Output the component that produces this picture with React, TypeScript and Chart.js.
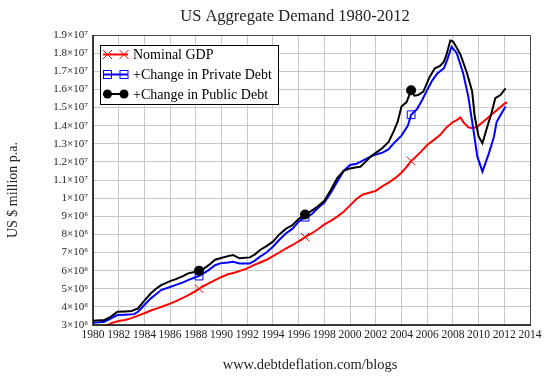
import React, { useEffect, useRef } from "react";
import { Chart, registerables } from "chart.js";

Chart.register(...registerables);

const gdpYears = [1980, 1980.5, 1981, 1981.2, 1981.5, 1982, 1982.5, 1983, 1983.5, 1984, 1984.5, 1985, 1985.5, 1986, 1986.5, 1987, 1987.5, 1988, 1988.25, 1988.5, 1989, 1989.5, 1990, 1990.5, 1991, 1991.5, 1992, 1992.5, 1993, 1993.5, 1994, 1994.5, 1995, 1995.5, 1996, 1996.5, 1997, 1997.5, 1998, 1998.5, 1999, 1999.5, 2000, 2000.5, 2001, 2001.5, 2002, 2002.5, 2003, 2003.5, 2004, 2004.5, 2004.75, 2005, 2005.5, 2006, 2006.5, 2007, 2007.5, 2008, 2008.3, 2008.6, 2008.8, 2009.2, 2009.6, 2010, 2010.5, 2011, 2011.5, 2012, 2012.2];
const gdpValues = [2.78e6, 2.86e6, 2.98e6, 3.02e6, 3.12e6, 3.22e6, 3.28e6, 3.38e6, 3.52e6, 3.65e6, 3.8e6, 3.92e6, 4.05e6, 4.18e6, 4.33e6, 4.5e6, 4.68e6, 4.88e6, 5.0e6, 5.1e6, 5.3e6, 5.48e6, 5.65e6, 5.8e6, 5.88e6, 6.0e6, 6.12e6, 6.3e6, 6.45e6, 6.6e6, 6.8e6, 7.0e6, 7.22e6, 7.4e6, 7.62e6, 7.85e6, 8.05e6, 8.28e6, 8.55e6, 8.75e6, 8.98e6, 9.25e6, 9.6e6, 9.95e6, 1.02e7, 1.03e7, 1.04e7, 1.065e7, 1.085e7, 1.11e7, 1.14e7, 1.18e7, 1.205e7, 1.22e7, 1.255e7, 1.293e7, 1.32e7, 1.348e7, 1.39e7, 1.42e7, 1.43e7, 1.445e7, 1.42e7, 1.39e7, 1.385e7, 1.4e7, 1.43e7, 1.46e7, 1.49e7, 1.52e7, 1.53e7];

const privateYears = [1980, 1980.5, 1980.9, 1981.4, 1981.9, 1982.5, 1983.2, 1983.5, 1984, 1984.5, 1985, 1985.3, 1986, 1986.4, 1987, 1987.4, 1987.9, 1988.25, 1988.5, 1989, 1989.5, 1989.9, 1990.5, 1990.9, 1991.4, 1992.2, 1992.6, 1993, 1993.5, 1994, 1994.5, 1995, 1995.5, 1996, 1996.5, 1997, 1997.5, 1998, 1998.5, 1999, 1999.5, 2000, 2000.5, 2000.8, 2001.2, 2001.6, 2002, 2002.5, 2003, 2003.5, 2004, 2004.5, 2004.75, 2005.2, 2005.6, 2006, 2006.4, 2006.8, 2007.3, 2007.6, 2007.9, 2008.3, 2008.8, 2009.2, 2009.6, 2009.9, 2010.3, 2010.8, 2011.2, 2011.4, 2011.8, 2012.1];
const privateValues = [3.13e6, 3.15e6, 3.18e6, 3.37e6, 3.55e6, 3.57e6, 3.6e6, 3.73e6, 4.1e6, 4.47e6, 4.75e6, 4.93e6, 5.1e6, 5.2e6, 5.35e6, 5.48e6, 5.62e6, 5.7e6, 5.8e6, 6.03e6, 6.3e6, 6.4e6, 6.45e6, 6.49e6, 6.4e6, 6.4e6, 6.55e6, 6.77e6, 7.0e6, 7.32e6, 7.7e6, 8.05e6, 8.3e6, 8.7e6, 8.95e6, 9.1e6, 9.45e6, 9.75e6, 1.03e7, 1.09e7, 1.15e7, 1.183e7, 1.19e7, 1.2e7, 1.215e7, 1.229e7, 1.24e7, 1.25e7, 1.27e7, 1.31e7, 1.345e7, 1.4e7, 1.46e7, 1.49e7, 1.54e7, 1.597e7, 1.65e7, 1.689e7, 1.716e7, 1.771e7, 1.835e7, 1.8e7, 1.689e7, 1.56e7, 1.376e7, 1.23e7, 1.146e7, 1.247e7, 1.34e7, 1.42e7, 1.47e7, 1.505e7];

const publicYears = [1980, 1980.9, 1981.4, 1981.9, 1982.5, 1983, 1983.5, 1984, 1984.5, 1985, 1985.3, 1986, 1986.4, 1987, 1987.4, 1987.9, 1988.25, 1988.6, 1989, 1989.5, 1989.9, 1990.5, 1990.9, 1991.4, 1992.2, 1992.6, 1993, 1993.5, 1994, 1994.5, 1995, 1995.5, 1996, 1996.5, 1997, 1997.5, 1998, 1998.5, 1999, 1999.5, 2000, 2000.5, 2000.8, 2001.2, 2001.6, 2002, 2002.5, 2003, 2003.4, 2003.7, 2004, 2004.4, 2004.75, 2005, 2005.3, 2005.7, 2006.2, 2006.6, 2007, 2007.3, 2007.5, 2007.8, 2008, 2008.3, 2008.6, 2009.1, 2009.5, 2009.7, 2010, 2010.3, 2010.6, 2011, 2011.3, 2011.7, 2012.1];
const publicValues = [3.24e6, 3.28e6, 3.46e6, 3.73e6, 3.75e6, 3.77e6, 3.92e6, 4.35e6, 4.75e6, 5.05e6, 5.2e6, 5.42e6, 5.52e6, 5.7e6, 5.85e6, 5.92e6, 6.0e6, 6.1e6, 6.3e6, 6.6e6, 6.68e6, 6.8e6, 6.86e6, 6.68e6, 6.73e6, 6.9e6, 7.14e6, 7.35e6, 7.6e6, 8.0e6, 8.3e6, 8.5e6, 8.85e6, 9.1e6, 9.3e6, 9.55e6, 9.85e6, 1.045e7, 1.11e7, 1.15e7, 1.164e7, 1.17e7, 1.173e7, 1.2e7, 1.229e7, 1.25e7, 1.275e7, 1.31e7, 1.37e7, 1.42e7, 1.505e7, 1.53e7, 1.595e7, 1.565e7, 1.569e7, 1.588e7, 1.67e7, 1.716e7, 1.73e7, 1.753e7, 1.79e7, 1.87e7, 1.865e7, 1.83e7, 1.79e7, 1.689e7, 1.588e7, 1.45e7, 1.34e7, 1.303e7, 1.376e7, 1.468e7, 1.551e7, 1.569e7, 1.606e7];

const markerYears = [1988.25, 1996.5, 2004.75];

const yTickLabels = ["3×10⁶", "4×10⁶", "5×10⁶", "6×10⁶", "7×10⁶", "8×10⁶", "9×10⁶", "1×10⁷", "1.1×10⁷", "1.2×10⁷", "1.3×10⁷", "1.4×10⁷", "1.5×10⁷", "1.6×10⁷", "1.7×10⁷", "1.8×10⁷", "1.9×10⁷"];

const seriesNames = ["Nominal GDP", "+Change in Private Debt", "+Change in Public Debt"];
const chartTitle = "US Aggregate Demand 1980-2012";
const yAxisTitle = "US $ million p.a.";
const sourceText = "www.debtdeflation.com/blogs";

const SERIF = "'Liberation Serif', 'Times New Roman', serif";

function toPoints(xs: number[], ys: number[]) {
  return xs.map((x, i) => ({ x, y: ys[i] }));
}

function markerRadius(r: number) {
  return (ctx: any) => {
    const raw = ctx.raw;
    if (!raw) return 0;
    return markerYears.includes(raw.x) ? r : 0;
  };
}

const framePlugin = {
  id: "frame",
  afterDatasetsDraw(chart: any) {
    const { ctx, chartArea } = chart;
    const { left, right, top, bottom } = chartArea;
    ctx.save();
    ctx.strokeStyle = "#444";
    ctx.lineWidth = 1;
    ctx.beginPath();
    ctx.moveTo(left, top + 0.5);
    ctx.lineTo(right + 0.5, top + 0.5);
    ctx.lineTo(right + 0.5, bottom);
    ctx.stroke();
    ctx.strokeStyle = "#000";
    ctx.lineWidth = 1.5;
    ctx.beginPath();
    ctx.moveTo(left, top);
    ctx.lineTo(left, bottom);
    ctx.lineTo(right + 1, bottom);
    ctx.stroke();
    ctx.restore();
  },
};

function drawMarker(ctx: CanvasRenderingContext2D, kind: number, x: number, y: number) {
  ctx.save();
  if (kind === 0) {
    ctx.strokeStyle = "#ff0000";
    ctx.lineWidth = 1;
    const r = 4.5;
    ctx.beginPath();
    ctx.moveTo(x - r, y - r);
    ctx.lineTo(x + r, y + r);
    ctx.moveTo(x + r, y - r);
    ctx.lineTo(x - r, y + r);
    ctx.stroke();
  } else if (kind === 1) {
    ctx.strokeStyle = "#0000ff";
    ctx.lineWidth = 1;
    ctx.strokeRect(x - 4, y - 4, 8, 8);
  } else {
    ctx.fillStyle = "#000";
    ctx.beginPath();
    ctx.arc(x, y, 4.5, 0, Math.PI * 2);
    ctx.fill();
  }
  ctx.restore();
}

const overlayPlugin = {
  id: "overlay",
  afterDraw(chart: any) {
    const { ctx, chartArea } = chart;
    ctx.save();
    // title
    ctx.fillStyle = "#222";
    ctx.font = `16.5px ${SERIF}`;
    ctx.textAlign = "center";
    ctx.textBaseline = "alphabetic";
    ctx.fillText(chartTitle, 295, 21);
    // source
    ctx.font = `14.5px ${SERIF}`;
    ctx.fillText(sourceText, 310, 369);
    // y axis title
    ctx.save();
    ctx.translate(13, 190);
    ctx.rotate(-Math.PI / 2);
    ctx.font = `14px ${SERIF}`;
    ctx.textBaseline = "middle";
    ctx.fillText(yAxisTitle, 0, 0);
    ctx.restore();
    // legend
    const bx = 100, by = 45, bw = 178, bh = 59;
    ctx.fillStyle = "#fff";
    ctx.fillRect(bx, by, bw, bh);
    ctx.strokeStyle = "#000";
    ctx.lineWidth = 1;
    ctx.strokeRect(bx + 0.5, by + 0.5, bw, bh);
    const colors = ["#ff0000", "#0000ff", "#000000"];
    const rows = [54.5, 74.5, 94];
    seriesNames.forEach((name, i) => {
      const y = rows[i];
      ctx.strokeStyle = colors[i];
      ctx.lineWidth = 2;
      ctx.beginPath();
      ctx.moveTo(103, y);
      ctx.lineTo(128, y);
      ctx.stroke();
      drawMarker(ctx, i, 107.5, y);
      drawMarker(ctx, i, 124, y);
      ctx.fillStyle = "#000";
      ctx.font = `14px ${SERIF}`;
      ctx.textAlign = "left";
      ctx.textBaseline = "middle";
      ctx.fillText(name, 133, y + 1);
    });
    ctx.restore();
  },
};

export default function App() {
  const canvasRef = useRef<HTMLCanvasElement | null>(null);

  useEffect(() => {
    if (!canvasRef.current) return;
    const chart = new Chart(canvasRef.current, {
      type: "line",
      data: {
        datasets: [
          {
            label: seriesNames[2],
            data: toPoints(publicYears, publicValues),
            borderColor: "#000000",
            backgroundColor: "#000000",
            borderWidth: 2,
            pointStyle: "circle",
            pointRadius: markerRadius(5),
            pointBorderWidth: 0,
            pointBackgroundColor: "#000000",
            pointHoverRadius: 0,
            tension: 0,
          },
          {
            label: seriesNames[1],
            data: toPoints(privateYears, privateValues),
            borderColor: "#0000ff",
            backgroundColor: "rgba(0,0,0,0)",
            borderWidth: 2,
            pointStyle: "rect",
            pointRadius: markerRadius(5.5),
            pointBorderWidth: 1,
            pointBorderColor: "#0000ff",
            pointBackgroundColor: "rgba(0,0,0,0)",
            pointHoverRadius: 0,
            tension: 0,
          },
          {
            label: seriesNames[0],
            data: toPoints(gdpYears, gdpValues),
            borderColor: "#ff0000",
            backgroundColor: "#ff0000",
            borderWidth: 2,
            pointStyle: "crossRot",
            pointRadius: markerRadius(6),
            pointBorderWidth: 1,
            pointBorderColor: "#ff0000",
            pointHoverRadius: 0,
            tension: 0,
          },
        ],
      },
      options: {
        animation: false,
        responsive: false,
        devicePixelRatio: 1,
        layout: { padding: { left: 0, top: 35, right: 20, bottom: 0 } },
        plugins: {
          legend: { display: false },
          title: { display: false },
          tooltip: { enabled: false },
        },
        scales: {
          x: {
            type: "linear",
            min: 1980,
            max: 2014,
            ticks: {
              stepSize: 2,
              autoSkip: false,
              maxRotation: 0,
              minRotation: 0,
              padding: 3,
              color: "#222",
              font: { family: SERIF, size: 11.5 },
              callback: (v: any) => String(v),
            },
            grid: { color: "#c8c8c8", lineWidth: 1, drawTicks: false },
            border: { display: false },
            afterFit: (s: any) => {
              s.height = 52;
            },
          },
          y: {
            type: "linear",
            min: 3e6,
            max: 1.9e7,
            ticks: {
              stepSize: 1e6,
              padding: 5,
              color: "#222",
              font: { family: SERIF, size: 11 },
              callback: (v: any) => {
                const idx = Math.round((Number(v) - 3e6) / 1e6);
                return yTickLabels[idx] ?? "";
              },
            },
            grid: { color: "#c8c8c8", lineWidth: 1, drawTicks: false },
            border: { display: false },
            afterFit: (s: any) => {
              s.width = 93;
            },
          },
        },
      },
      plugins: [framePlugin, overlayPlugin],
    });
    return () => chart.destroy();
  }, []);

  return (
    <div style={{ position: "absolute", left: 0, top: 0, width: 550, height: 377, background: "#fff" }}>
      <canvas ref={canvasRef} width={550} height={377} style={{ display: "block" }} />
    </div>
  );
}
